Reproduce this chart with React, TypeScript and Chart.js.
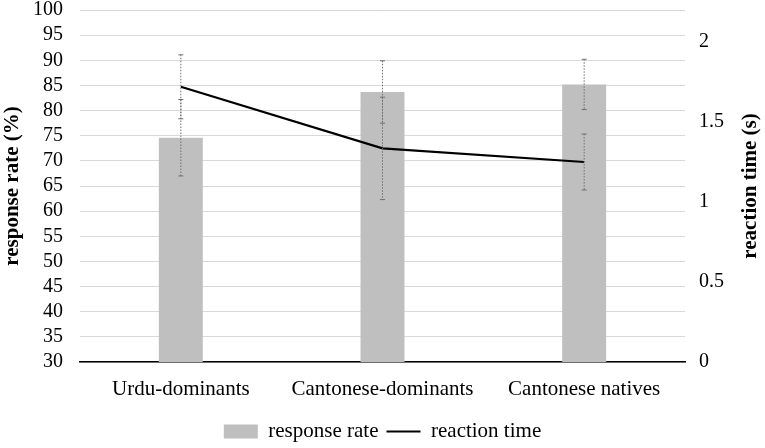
import React, { useEffect, useRef } from "react";
import { Chart, registerables } from "chart.js";

Chart.register(...registerables);

const categories = ["Urdu-dominants", "Cantonese-dominants", "Cantonese natives"];
const responseRate = [74.6, 83.7, 85.2];
const responseErr = [7.6, 6.2, 5.0];
const reactionTime = [1.72, 1.335, 1.25];
const reactionErr = [0.2, 0.32, 0.175];
const rightTitle = "reaction time (s)";

const FONT = "'Liberation Serif', 'Times New Roman', serif";

// dotted error bars with small caps, drawn over the datasets
const errorBarPlugin = {
  id: "errorBars",
  afterDatasetsDraw(chart: any) {
    const { ctx, scales } = chart;
    const x = scales.x;
    const draw = (vals: number[], errs: number[], scale: any) => {
      vals.forEach((v, i) => {
        const px = x.getPixelForValue(i);
        const top = scale.getPixelForValue(v + errs[i]);
        const bot = scale.getPixelForValue(v - errs[i]);
        ctx.save();
        ctx.strokeStyle = "#6f6f6f";
        ctx.lineWidth = 1;
        ctx.setLineDash([1.5, 1.5]);
        ctx.beginPath();
        ctx.moveTo(px, top);
        ctx.lineTo(px, bot);
        ctx.stroke();
        ctx.setLineDash([]);
        ctx.beginPath();
        ctx.moveTo(px - 2.5, top);
        ctx.lineTo(px + 2.5, top);
        ctx.moveTo(px - 2.5, bot);
        ctx.lineTo(px + 2.5, bot);
        ctx.stroke();
        ctx.restore();
      });
    };
    draw(responseRate, responseErr, scales.y);
    draw(reactionTime, reactionErr, scales.y1);
  },
};

// right axis title reads bottom-to-top, like the left one
const rightTitlePlugin = {
  id: "rightTitle",
  afterDraw(chart: any) {
    const { ctx, chartArea, scales } = chart;
    const cx = scales.y1.right - 14;
    const cy = (chartArea.top + chartArea.bottom) / 2;
    ctx.save();
    ctx.translate(cx, cy);
    ctx.rotate(-Math.PI / 2);
    ctx.font = `bold 21px ${FONT}`;
    ctx.fillStyle = "#000000";
    ctx.textAlign = "center";
    ctx.textBaseline = "middle";
    ctx.fillText(rightTitle, 0, 0);
    ctx.restore();
  },
};

const App: React.FC = () => {
  const canvasRef = useRef<HTMLCanvasElement>(null);
  const chartRef = useRef<Chart>();

  useEffect(() => {
    document.body.style.margin = "0";
    const ctx = canvasRef.current?.getContext("2d");
    if (!ctx) return;

    chartRef.current = new Chart(ctx, {
      type: "bar",
      data: {
        labels: categories,
        datasets: [
          {
            type: "line",
            label: "reaction time",
            data: reactionTime,
            yAxisID: "y1",
            borderColor: "#000000",
            backgroundColor: "#000000",
            borderWidth: 2.2,
            pointRadius: 0,
            tension: 0,
            order: 1,
          } as any,
          {
            type: "bar",
            label: "response rate",
            data: responseRate,
            yAxisID: "y",
            backgroundColor: "#bfbfbf",
            borderWidth: 0,
            barPercentage: 0.218,
            categoryPercentage: 1,
            order: 2,
          },
        ],
      },
      options: {
        responsive: false,
        animation: false,
        layout: { padding: { left: 0, right: 0, top: 0, bottom: -4 } },
        scales: {
          x: {
            grid: { display: false, drawTicks: false },
            border: { color: "#000000", width: 1.5 },
            ticks: { color: "#000000", font: { family: FONT, size: 21 }, padding: 15 },
            afterFit: (axis: any) => {
              axis.height = 51;
            },
          },
          y: {
            position: "left",
            min: 30,
            max: 100,
            ticks: {
              stepSize: 5,
              autoSkip: false,
              color: "#000000",
              font: { family: FONT, size: 20 },
              padding: 17,
            },
            grid: { color: "#d9d9d9", lineWidth: 1, drawTicks: false },
            border: { display: false },
            title: {
              display: true,
              text: "response rate (%)",
              color: "#000000",
              font: { family: FONT, size: 21, weight: "bold" },
              padding: { top: 0, bottom: 0 },
            },
            afterFit: (axis: any) => {
              axis.width = 80;
              axis.paddingTop = 10;
              axis.paddingBottom = 0;
            },
          },
          y1: {
            position: "right",
            min: 0,
            max: 2.2,
            ticks: {
              stepSize: 0.5,
              includeBounds: false,
              autoSkip: false,
              color: "#000000",
              font: { family: FONT, size: 20 },
              padding: 14,
              callback: (v: any) => String(Number(v)),
            },
            grid: { display: false, drawTicks: false },
            border: { display: false },
            afterFit: (axis: any) => {
              axis.width = 80;
              axis.paddingTop = 10;
              axis.paddingBottom = 0;
            },
          },
        },
        plugins: {
          legend: {
            position: "bottom",
            reverse: true,
            labels: {
              color: "#000000",
              font: { family: FONT, size: 21 },
              usePointStyle: true,
              pointStyleWidth: 34,
              boxHeight: 14,
              padding: 8,
              generateLabels: (chart: any) =>
                chart.data.datasets.map((ds: any, i: number) => ({
                  text: ds.label,
                  fillStyle: ds.backgroundColor,
                  strokeStyle: ds.type === "line" ? ds.borderColor : ds.backgroundColor,
                  lineWidth: ds.type === "line" ? 2 : 0,
                  pointStyle: ds.type === "line" ? "line" : "rect",
                  fontColor: "#000000",
                  hidden: false,
                  datasetIndex: i,
                })),
            },
          },
          tooltip: { enabled: false },
        },
      },
      plugins: [errorBarPlugin, rightTitlePlugin],
    });

    return () => {
      chartRef.current?.destroy();
    };
  }, []);

  return (
    <div style={{ width: 765, height: 448 }}>
      <canvas ref={canvasRef} width={765} height={448}></canvas>
    </div>
  );
};

export default App;
